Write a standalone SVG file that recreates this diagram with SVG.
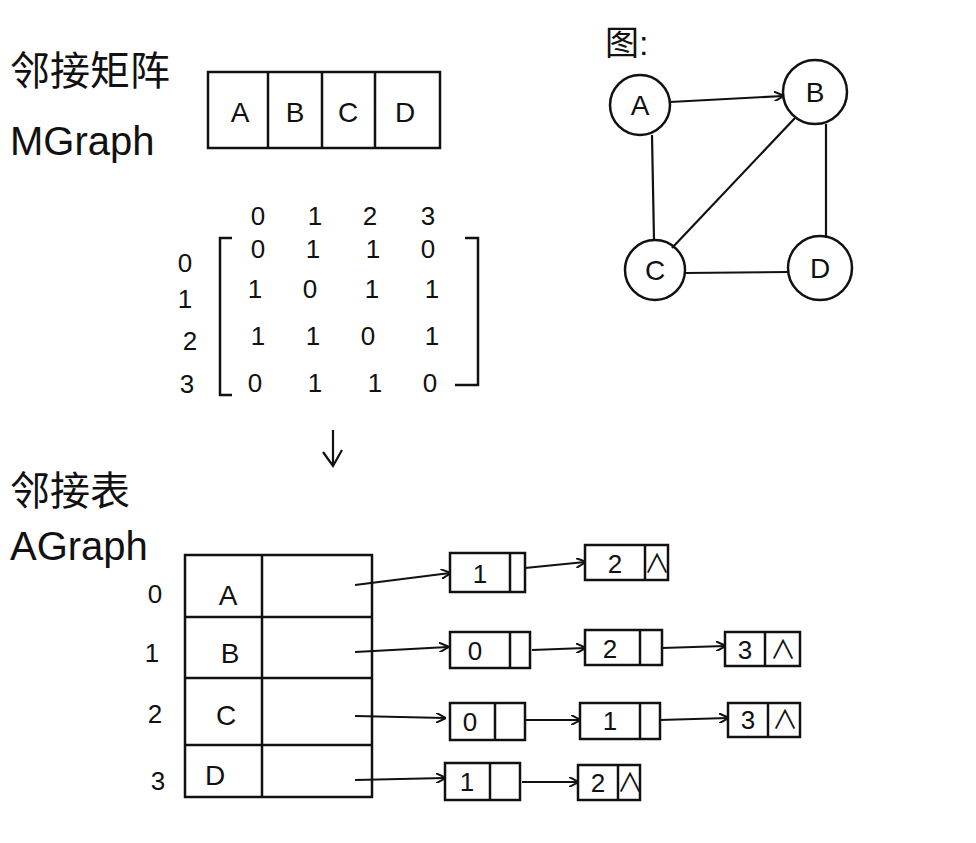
<svg xmlns="http://www.w3.org/2000/svg" width="976" height="843" viewBox="0 0 976 843">
<defs>
<marker id="ah" markerWidth="10" markerHeight="10" refX="9" refY="5" orient="auto" markerUnits="userSpaceOnUse"><path d="M0,0 L10,5 L0,10" fill="none" stroke="#111" stroke-width="2"/></marker>
<style>
.s{fill:none;stroke:#111;stroke-width:2.5}
.c{stroke:#111;stroke-width:2.2;fill:none}
.t{font-family:"Liberation Sans","Noto Sans CJK SC",sans-serif;fill:#111;text-anchor:middle}
.h{font-size:40px;text-anchor:start}
.m{font-size:28px}
.n{font-size:26px}
</style>
</defs>
<rect width="976" height="843" fill="#fff"/>
<g id="titles">
<text class="t h" x="10" y="85">邻接矩阵</text>
<text class="t h" x="10" y="155">MGraph</text>
<text class="t h" x="605" y="55" style="font-size:34px">图:</text>
<text class="t h" x="10" y="505">邻接表</text>
<text class="t h" x="10" y="560">AGraph</text>
</g>
<g id="array">
<rect class="s" x="208" y="72" width="232" height="76"/>
<path class="s" d="M268,72V148M322,72V148M375,72V148"/>
<text class="t m" x="240" y="122">A</text><text class="t m" x="295" y="122">B</text><text class="t m" x="348" y="122">C</text><text class="t m" x="405" y="122">D</text>
</g>
<g id="matrix">
<text class="t n" x="258" y="225">0</text><text class="t n" x="315" y="225">1</text><text class="t n" x="370" y="225">2</text><text class="t n" x="428" y="225">3</text>
<text class="t n" x="185" y="272">0</text><text class="t n" x="185" y="308">1</text><text class="t n" x="190" y="350">2</text><text class="t n" x="187" y="393">3</text>
<path class="s" d="M232,238H220V395H232M465,238H478V385H455"/>
<text class="t n" x="258" y="258">0</text><text class="t n" x="313" y="258">1</text><text class="t n" x="373" y="258">1</text><text class="t n" x="428" y="258">0</text>
<text class="t n" x="255" y="298">1</text><text class="t n" x="310" y="298">0</text><text class="t n" x="372" y="298">1</text><text class="t n" x="432" y="298">1</text>
<text class="t n" x="258" y="345">1</text><text class="t n" x="313" y="345">1</text><text class="t n" x="368" y="345">0</text><text class="t n" x="432" y="345">1</text>
<text class="t n" x="255" y="392">0</text><text class="t n" x="315" y="392">1</text><text class="t n" x="375" y="392">1</text><text class="t n" x="430" y="392">0</text>
</g>
<g id="graph">
<g id="nA"><circle class="s" cx="640" cy="105" r="30"/><text class="t m" x="640" y="115">A</text></g>
<g id="nB"><circle class="s" cx="815" cy="92" r="32"/><text class="t m" x="815" y="102">B</text></g>
<g id="nC"><circle class="s" cx="655" cy="270" r="30"/><text class="t m" x="655" y="280">C</text></g>
<g id="nD"><circle class="s" cx="820" cy="268" r="32"/><text class="t m" x="820" y="278">D</text></g>
</g>
<g id="connectors">
<path class="c" d="M670,102L783,96" marker-end="url(#ah)"/>
<path class="c" d="M795,118L672,248"/>
<path class="c" d="M826,124L826,238"/>
<path class="c" d="M652,135L654,240"/>
<path class="c" d="M685,273L788,272"/>
<path class="c" d="M333,430V465M323,452L333,466L342,450"/>
<path class="c" d="M355,585L450,573" marker-end="url(#ah)"/>
<path class="c" d="M525,568L585,562" marker-end="url(#ah)"/>
<path class="c" d="M355,652L448,647" marker-end="url(#ah)"/>
<path class="c" d="M532,650L585,648" marker-end="url(#ah)"/>
<path class="c" d="M662,648L725,646" marker-end="url(#ah)"/>
<path class="c" d="M355,716L445,718" marker-end="url(#ah)"/>
<path class="c" d="M525,720L580,720" marker-end="url(#ah)"/>
<path class="c" d="M660,720L728,718" marker-end="url(#ah)"/>
<path class="c" d="M355,780L445,778" marker-end="url(#ah)"/>
<path class="c" d="M522,782L578,782" marker-end="url(#ah)"/>
</g>
<g id="table">
<rect class="s" x="185" y="555" width="187" height="242"/>
<path class="s" d="M262,555V797M185,617H372M185,678H372M185,745H372"/>
<text class="t n" x="155" y="603">0</text><text class="t n" x="152" y="662">1</text><text class="t n" x="155" y="723">2</text><text class="t n" x="158" y="790">3</text>
<text class="t m" x="228" y="605">A</text><text class="t m" x="230" y="663">B</text><text class="t m" x="226" y="725">C</text><text class="t m" x="215" y="785">D</text>
</g>
<g id="lists">
<g id="l00"><rect class="s" x="450" y="553" width="75" height="39"/><path class="s" d="M510,553V592"/><text class="t n" x="480" y="583">1</text></g>
<g id="l01"><rect class="s" x="585" y="545" width="83" height="35"/><path class="s" d="M645,545V580"/><text class="t n" x="615" y="573">2</text><text class="t n" x="657" y="573">∧</text></g>
<g id="l10"><rect class="s" x="450" y="632" width="80" height="36"/><path class="s" d="M510,632V668"/><text class="t n" x="475" y="660">0</text></g>
<g id="l11"><rect class="s" x="585" y="630" width="77" height="35"/><path class="s" d="M640,630V665"/><text class="t n" x="610" y="658">2</text></g>
<g id="l12"><rect class="s" x="725" y="632" width="75" height="34"/><path class="s" d="M765,632V666"/><text class="t n" x="745" y="659">3</text><text class="t n" x="783" y="659">∧</text></g>
<g id="l20"><rect class="s" x="450" y="703" width="75" height="37"/><path class="s" d="M495,703V740"/><text class="t n" x="470" y="731">0</text></g>
<g id="l21"><rect class="s" x="580" y="703" width="80" height="36"/><path class="s" d="M640,703V739"/><text class="t n" x="610" y="730">1</text></g>
<g id="l22"><rect class="s" x="728" y="703" width="72" height="34"/><path class="s" d="M768,703V737"/><text class="t n" x="748" y="729">3</text><text class="t n" x="785" y="729">∧</text></g>
<g id="l30"><rect class="s" x="445" y="763" width="75" height="37"/><path class="s" d="M490,763V800"/><text class="t n" x="467" y="791">1</text></g>
<g id="l31"><rect class="s" x="578" y="765" width="62" height="35"/><path class="s" d="M618,765V800"/><text class="t n" x="598" y="792">2</text><text class="t n" x="630" y="792">∧</text></g>
</g>
</svg>
